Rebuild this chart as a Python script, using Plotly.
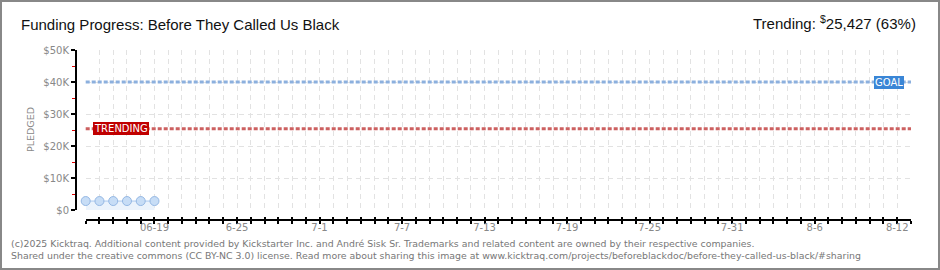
import plotly.graph_objects as go

# ---- data ----
dates = ["2025-06-14", "2025-06-15", "2025-06-16", "2025-06-17", "2025-06-18", "2025-06-19"]
pledged = [2800, 2800, 2800, 2800, 2800, 2800]
goal = 40000
trending = 25427
trend_pct = "63%"
x_start = "2025-06-14"
x_end = "2025-08-13"
xlabel_dates = ["2025-06-19", "2025-06-25", "2025-07-01", "2025-07-07", "2025-07-13",
                "2025-07-19", "2025-07-25", "2025-07-31", "2025-08-06", "2025-08-12"]
xlabel_text = ["06-19", "6-25", "7-1", "7-7", "7-13", "7-19", "7-25", "7-31", "8-6", "8-12"]
y_major = [0, 10000, 20000, 30000, 40000, 50000]
y_major_text = ["$0", "$10K", "$20K", "$30K", "$40K", "$50K"]
y_minor = [5000, 15000, 25000, 35000, 45000]

title = "Funding Progress: Before They Called Us Black"
footer1 = ("(c)2025 Kicktraq. Additional content provided by Kickstarter Inc. and André Sisk Sr. "
           "Trademarks and related content are owned by their respective companies.")
footer2 = ("Shared under the creative commons (CC BY-NC 3.0) license. Read more about sharing this "
           "image at www.kicktraq.com/projects/beforeblackdoc/before-they-called-us-black/#sharing")

W, H = 940, 270
ML, MR, MT, MB = 76, 29, 50, 50
PW, PH = W - ML - MR, H - MT - MB

def px_x(p):
    return (p - ML) / PW

def px_y(p):
    return (H - MB - p) / PH

DAY = 86400000
grid_col = "#e2e2e2"
narrow = "Liberation Sans, Arial, sans-serif"
small = "DejaVu Sans, Verdana, sans-serif"

fig = go.Figure()
fig.add_trace(go.Scatter(
    x=dates, y=pledged, mode="lines+markers", cliponaxis=False,
    line=dict(color="#a9c9ef", width=1),
    marker=dict(size=9, color="#c7ddf6", line=dict(color="#95b8e4", width=1)),
    fill="tozeroy", fillcolor="#ebf3fc", showlegend=False, hoverinfo="skip"))
# empty traces to materialise the overlay axes
fig.add_trace(go.Scatter(x=[], y=[], xaxis="x2", showlegend=False))
fig.add_trace(go.Scatter(x=[], y=[], xaxis="x3", showlegend=False))

xdom = [px_x(85.7), 1]
ydom = [px_y(210), 1]

common_x = dict(type="date", range=[x_start, x_end], domain=xdom, anchor="free", position=0)
fig.update_layout(
    width=W, height=H, margin=dict(l=ML, r=MR, t=MT, b=MB),
    paper_bgcolor="white", plot_bgcolor="white", showlegend=False,
    xaxis=dict(**common_x, showline=True, linecolor="black", linewidth=2,
               ticks="outside", ticklen=3, tickwidth=2, tickcolor="black",
               tick0=x_start, dtick=DAY, showticklabels=False,
               showgrid=True, gridcolor=grid_col, griddash="5px,4px", gridwidth=1,
               zeroline=False),
    xaxis2=dict(**common_x, overlaying="x", showline=False,
                ticks="inside", ticklen=3, tickwidth=2, tickcolor="black",
                tick0=x_start, dtick=DAY, showticklabels=False, showgrid=False, zeroline=False),
    xaxis3=dict(**common_x, overlaying="x", showline=False, ticks="",
                tickmode="array", tickvals=xlabel_dates, ticktext=xlabel_text,
                tickfont=dict(family=small, size=10, color="#888"),
                showgrid=False, zeroline=False),
    yaxis=dict(domain=ydom, range=[0, 50000], anchor="free", position=0,
               showline=True, linecolor="black", linewidth=2,
               ticks="outside", ticklen=4, tickwidth=2, tickcolor="black",
               tickmode="array", tickvals=y_major, ticktext=y_major_text,
               tickfont=dict(family=small, size=10, color="#888"),
               showgrid=True, gridcolor=grid_col, griddash="5px,4px", gridwidth=1,
               zeroline=False,
               minor=dict(ticks="outside", ticklen=3, tickwidth=1, tickcolor="#e00000",
                          tickmode="array", tickvals=y_minor, showgrid=False)),
)

# goal & trending lines
fig.add_shape(type="line", xref="x domain", x0=0, x1=1, yref="y", y0=goal, y1=goal,
              line=dict(color="#8cb0de", width=3, dash="4px,2px"), layer="above")
fig.add_shape(type="line", xref="x domain", x0=0, x1=1, yref="y", y0=trending, y1=trending,
              line=dict(color="#cc6060", width=3, dash="4px,2px"), layer="above")

fig.add_annotation(text="TRENDING", xref="x domain", x=(93.3 - 85.7) / 825, xanchor="left",
                   yref="y", y=trending, yanchor="middle", showarrow=False,
                   bgcolor="#c00000", borderpad=1, borderwidth=0,
                   font=dict(family=small, size=10, color="white"))
fig.add_annotation(text="GOAL", xref="x domain", x=(904 - 85.7) / 825, xanchor="right",
                   yref="y", y=goal, yanchor="middle", showarrow=False,
                   bgcolor="#3a86d6", borderpad=1, borderwidth=0,
                   font=dict(family=small, size=10, color="white"))

# texts
fig.add_annotation(text=title, xref="paper", yref="paper", x=px_x(19), y=px_y(24),
                   xanchor="left", yanchor="middle", showarrow=False,
                   font=dict(family=narrow, size=15, color="#111"))
fig.add_annotation(text="Trending: <sup>$</sup>25,427 (" + trend_pct + ")", xref="paper", yref="paper",
                   x=px_x(918), y=px_y(23), xanchor="right", yanchor="middle", showarrow=False,
                   font=dict(family=narrow, size=15, color="#111"))
fig.add_annotation(text="PLEDGED", xref="paper", yref="paper", x=px_x(30), y=px_y(130),
                   xanchor="center", yanchor="middle", textangle=-90, showarrow=False,
                   font=dict(family=small, size=9.5, color="#888"))
fig.add_annotation(text=footer1, xref="paper", yref="paper", x=px_x(9), y=px_y(243),
                   xanchor="left", yanchor="middle", showarrow=False,
                   font=dict(family=small, size=9.4, color="#777"))
fig.add_annotation(text=footer2, xref="paper", yref="paper", x=px_x(9), y=px_y(256),
                   xanchor="left", yanchor="middle", showarrow=False,
                   font=dict(family=small, size=9.4, color="#777"))

# outer frame
fig.add_shape(type="rect", xref="paper", yref="paper",
              x0=px_x(1), x1=px_x(939), y0=px_y(269), y1=px_y(1),
              line=dict(color="#888", width=2), fillcolor="rgba(0,0,0,0)", layer="above")

fig.write_html("out.html")
